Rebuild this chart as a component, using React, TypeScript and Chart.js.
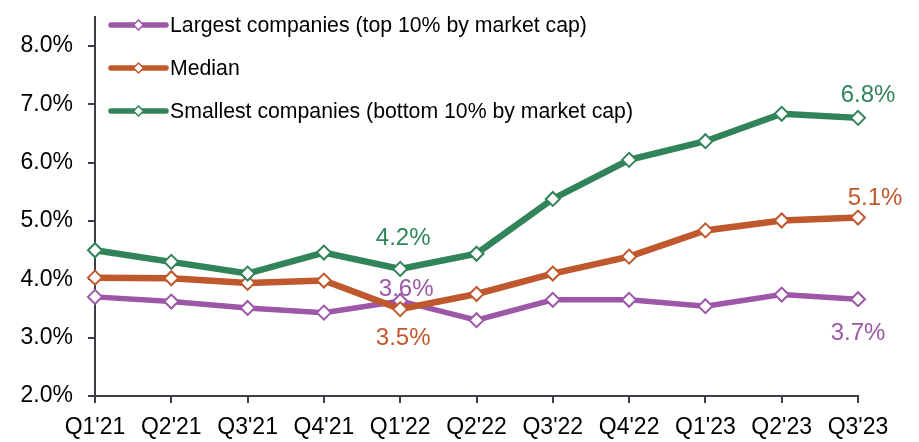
import React, { useEffect, useRef } from 'react';
import { Chart, registerables } from 'chart.js';
Chart.register(...registerables);

const categories = ["Q1'21", "Q2'21", "Q3'21", "Q4'21", "Q1'22", "Q2'22", "Q3'22", "Q4'22", "Q1'23", "Q2'23", "Q3'23"];
const largest = [3.70, 3.62, 3.51, 3.43, 3.63, 3.30, 3.65, 3.65, 3.54, 3.74, 3.66];
const median = [4.03, 4.02, 3.94, 3.98, 3.49, 3.75, 4.10, 4.39, 4.84, 5.01, 5.06];
const smallest = [4.50, 4.30, 4.10, 4.46, 4.18, 4.44, 5.38, 6.05, 6.37, 6.84, 6.77];
const seriesNames = [
  'Largest companies (top 10% by market cap)',
  'Median',
  'Smallest companies (bottom 10% by market cap)',
];
const yMin = 2;
const yMax = 8.5;
const yStep = 1;

const COLORS = ['#9C57A7', '#C0582D', '#31845A'];
const FONT = '"Liberation Sans", Arial, sans-serif';

// which points carry a value label (dataset index, point index) and where
const labelSpecs = [
  { ds: 2, i: 4, dx: 3, dy: -31 },
  { ds: 0, i: 4, dx: 6, dy: -12 },
  { ds: 1, i: 4, dx: 3, dy: 29 },
  { ds: 2, i: 10, dx: 10, dy: -22 },
  { ds: 1, i: 10, dx: 17, dy: -19 },
  { ds: 0, i: 10, dx: 0, dy: 34 },
];

const labelPlugin = {
  id: 'valueLabels',
  afterDatasetsDraw(chart: any) {
    const ctx = chart.ctx;
    ctx.save();
    ctx.font = `24px ${FONT}`;
    ctx.textAlign = 'center';
    ctx.textBaseline = 'middle';
    labelSpecs.forEach((s) => {
      const meta = chart.getDatasetMeta(s.ds);
      const el = meta.data[s.i];
      const v = chart.data.datasets[s.ds].data[s.i];
      ctx.fillStyle = COLORS[s.ds];
      ctx.fillText(v.toFixed(1) + '%', el.x + s.dx, el.y + s.dy);
    });
    ctx.restore();
  },
};

const legendPlugin = {
  id: 'customLegend',
  afterDraw(chart: any) {
    const ctx = chart.ctx;
    const left = chart.chartArea.left;
    ctx.save();
    seriesNames.forEach((name, k) => {
      const y = 25 + k * 43;
      const x0 = left + 16;
      const x1 = left + 71;
      ctx.strokeStyle = COLORS[k];
      ctx.lineWidth = 5.5;
      ctx.lineCap = 'round';
      ctx.beginPath();
      ctx.moveTo(x0, y);
      ctx.lineTo(x1, y);
      ctx.stroke();
      const cx = (x0 + x1) / 2;
      const r = 5;
      ctx.beginPath();
      ctx.moveTo(cx, y - r);
      ctx.lineTo(cx + r, y);
      ctx.lineTo(cx, y + r);
      ctx.lineTo(cx - r, y);
      ctx.closePath();
      ctx.fillStyle = '#ffffff';
      ctx.fill();
      ctx.lineWidth = 1.5;
      ctx.stroke();
      ctx.fillStyle = '#000000';
      ctx.font = `21.25px ${FONT}`;
      ctx.textAlign = 'left';
      ctx.textBaseline = 'middle';
      ctx.fillText(name, x1 + 4, y + 1);
    });
    ctx.restore();
  },
};

export default function App() {
  const ref = useRef<HTMLCanvasElement>(null);
  useEffect(() => {
    document.body.style.margin = '0';
    const series = [largest, median, smallest];
    const chart = new Chart(ref.current!, {
      type: 'line',
      data: {
        labels: categories,
        datasets: series.map((d, k) => ({
          label: seriesNames[k],
          data: d,
          order: 3 - k,
          borderColor: COLORS[k],
          backgroundColor: COLORS[k],
          borderWidth: k === 0 ? 5.5 : 6.5,
          pointStyle: 'rectRot',
          pointRadius: 7,
          pointHoverRadius: 7,
          pointBorderWidth: 2,
          pointBackgroundColor: '#ffffff',
          pointBorderColor: COLORS[k],
          tension: 0,
        })),
      },
      options: {
        animation: false,
        responsive: false,
        maintainAspectRatio: false,
        layout: { padding: { top: 17, right: 61, left: 0, bottom: 0 } },
        plugins: { legend: { display: false }, tooltip: { enabled: false } },
        scales: {
          x: {
            offset: false,
            grid: { display: true, drawOnChartArea: false, drawTicks: true, tickLength: 7, color: '#3B3F45', lineWidth: 2 },
            border: { display: true, color: '#3B3F45', width: 2 },
            ticks: { color: '#000', font: { family: FONT, size: 23 }, padding: 11, maxRotation: 0, autoSkip: false },
            afterFit: (s: any) => { s.height = 46; s.paddingLeft = 0; s.paddingRight = 0; },
          },
          y: {
            min: yMin,
            max: yMax,
            grid: { display: true, drawOnChartArea: false, drawTicks: true, tickLength: 7, color: '#3B3F45', lineWidth: 2 },
            border: { display: true, color: '#3B3F45', width: 2 },
            ticks: {
              stepSize: yStep,
              includeBounds: false,
              color: '#000',
              font: { family: FONT, size: 23 },
              padding: 15,
              callback: (v: any) => Number(v).toFixed(1) + '%',
            },
            afterFit: (s: any) => { s.width = 95; s.paddingTop = 0; s.paddingBottom = 0; },
          },
        },
      },
      plugins: [labelPlugin, legendPlugin],
    });
    return () => chart.destroy();
  }, []);
  return (
    <div style={{ width: 919, height: 442 }}>
      <canvas ref={ref} width={919} height={442} style={{ display: 'block' }} />
    </div>
  );
}
